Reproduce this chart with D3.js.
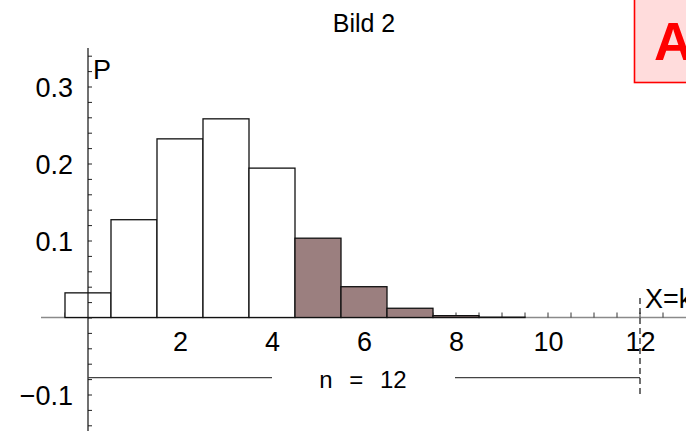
<!DOCTYPE html>
<html><head><meta charset="utf-8">
<script src="https://cdn.jsdelivr.net/npm/d3@7"></script>
<style>
html,body{margin:0;padding:0;background:#fff;}
svg text{font-family:"Liberation Sans",Arial,sans-serif;}
</style></head>
<body>
<script>
const ks = [0,1,2,3,4,5,6,7,8,9,10,11,12];
const probs = [0.032,0.127,0.232,0.258,0.194,0.103,0.040,0.012,0.0024,0.0004,0,0,0];
const shadedFrom = 5;
const xTickLabels = [2,4,6,8,10,12];
const yTickLabels = [-0.1,0.1,0.2,0.3];
const title = "Bild 2";
const nLabel = "n = 12";
const nValue = 12;

const W=686,H=434;
const svg=d3.select("body").append("svg").attr("width",W).attr("height",H);
const x=d3.scaleLinear().domain([0,12]).range([88,640]);
const y=d3.scaleLinear().domain([0,0.1]).range([317.5,240.5]);

// x axis line
svg.append("line").attr("x1",41).attr("x2",W).attr("y1",y(0)).attr("y2",y(0))
  .attr("stroke","#8a8a8a").attr("stroke-width",1.5);
// x minor ticks (upward)
const xt=d3.range(-1,26).map(i=>i/2).filter(v=>v!==0);
svg.append("g").selectAll("line").data(xt).join("line")
  .attr("x1",d=>x(d)).attr("x2",d=>x(d)).attr("y1",y(0)).attr("y2",y(0)-5)
  .attr("stroke","#333").attr("stroke-width",1);

// bars
svg.append("g").selectAll("rect").data(ks).join("rect")
  .attr("x",k=>x(k-0.5)).attr("width",k=>x(k+0.5)-x(k-0.5))
  .attr("y",k=>y(probs[k])).attr("height",k=>y(0)-y(probs[k]))
  .attr("fill",k=>k>=shadedFrom?"#9b7f7f":"#fff")
  .attr("stroke","#111").attr("stroke-width",1.3);

// y axis
const yMinor=d3.range(-7,18).map(i=>i*0.02);
const ya=svg.append("g").attr("transform",`translate(${x(0)},0)`)
  .call(d3.axisRight(y).tickValues(yMinor).tickSize(4).tickFormat(""));
ya.select(".domain").remove();
ya.selectAll(".tick line").attr("stroke","#222");
svg.append("line").attr("x1",x(0)).attr("x2",x(0)).attr("y1",48).attr("y2",431)
  .attr("stroke","#111").attr("stroke-width",1.2);
const yl=svg.append("g").attr("transform",`translate(${x(0)-15},0)`)
  .call(d3.axisLeft(y).tickValues(yTickLabels).tickSize(0).tickPadding(0).tickFormat(d3.format(".1f")));
yl.select(".domain").remove();
yl.selectAll("text").attr("font-size",27).attr("font-family","Liberation Sans, Arial, sans-serif").attr("fill","#000").attr("dy","0.36em");

// x labels
const xl=svg.append("g").attr("transform",`translate(0,${y(0)})`)
  .call(d3.axisBottom(x).tickValues(xTickLabels).tickSize(0).tickPadding(0).tickFormat(d3.format("d")));
xl.select(".domain").remove();
xl.selectAll("text").attr("font-size",27).attr("font-family","Liberation Sans, Arial, sans-serif").attr("fill","#000").attr("dy","1.25em");

// n line
const ny=377.7;
svg.append("line").attr("x1",x(0)).attr("x2",272).attr("y1",ny).attr("y2",ny).attr("stroke","#444").attr("stroke-width",1.2);
svg.append("line").attr("x1",455).attr("x2",x(nValue)).attr("y1",ny).attr("y2",ny).attr("stroke","#444").attr("stroke-width",1.2);
svg.append("text").attr("x",363).attr("y",388).attr("text-anchor","middle").attr("font-size",24)
  .attr("word-spacing","10px").text(nLabel);
svg.append("line").attr("x1",x(nValue)).attr("x2",x(nValue)).attr("y1",298).attr("y2",396)
  .attr("stroke","#111").attr("stroke-width",1.2).attr("stroke-dasharray","6,4");

// labels
svg.append("text").attr("x",364).attr("y",32).attr("text-anchor","middle").attr("font-size",25).text(title);
svg.append("text").attr("x",93).attr("y",79).attr("font-size",27).text("P");
svg.append("text").attr("x",645).attr("y",308).attr("font-size",27).text("X=k");

// A box
svg.append("rect").attr("x",634.5).attr("y",-2).attr("width",60).attr("height",84.5)
  .attr("fill","#ffdcdc").attr("stroke","#ff0000").attr("stroke-width",1.6);
svg.append("text").attr("x",654).attr("y",60).attr("font-size",53).attr("font-weight","bold").attr("fill","#ff0000").text("A");
</script>
</body></html>
